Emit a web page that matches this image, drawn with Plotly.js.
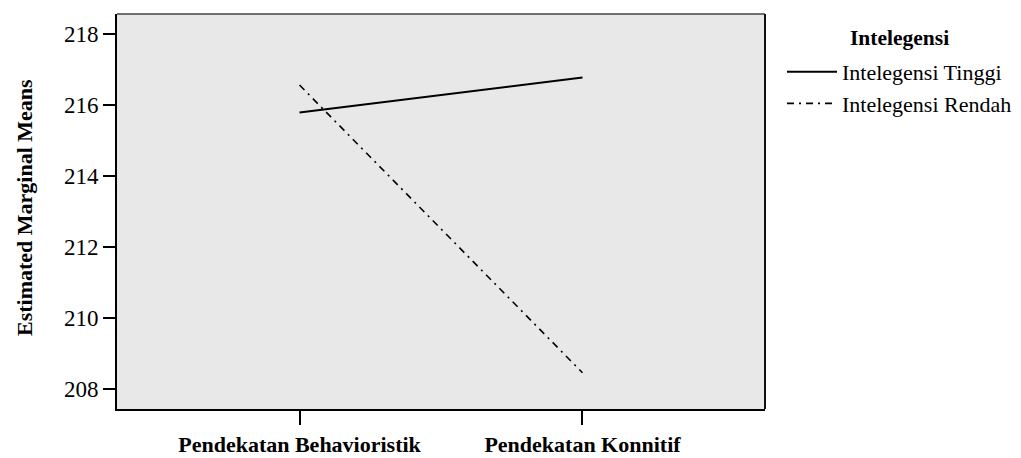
<!DOCTYPE html>
<html><head><meta charset="utf-8">
<script src="https://cdn.plot.ly/plotly-3.0.1.min.js"></script>
<style>html,body{margin:0;padding:0;background:#fff}</style>
</head><body>
<div id="chart" style="width:1021px;height:458px"></div>
<script>
const categories = ["Pendekatan Behavioristik", "Pendekatan Konnitif"];
const tinggi = [215.78, 216.76];
const rendah = [216.55, 208.45];
const seriesNames = ["Intelegensi Tinggi", "Intelegensi Rendah"];
const yTicks = [208, 210, 212, 214, 216, 218];

const font = "Liberation Serif, Times New Roman, serif";
const traces = [
  {x: categories, y: tinggi, name: seriesNames[0], type: "scatter", mode: "lines",
   line: {color: "#000", width: 2}},
  {x: categories, y: rendah, name: seriesNames[1], type: "scatter", mode: "lines",
   line: {color: "#000", width: 1.6, dash: "7px,5px,2px,5px"}}
];
const layout = {
  width: 1021, height: 458,
  margin: {l: 117, r: 256, t: 14, b: 49, autoexpand: false},
  paper_bgcolor: "#fff", plot_bgcolor: "#e8e8e8",
  font: {family: font, color: "#000", size: 20},
  showlegend: true,
  legend: {x: 782/1021, xref: "container", xanchor: "left", y: 1 - 51/458, yref: "container", yanchor: "top",
           font: {family: font, size: 22, color: "#000"}, itemwidth: 50,
           tracegroupgap: 0, bgcolor: "rgba(0,0,0,0)"},
  xaxis: {type: "category", range: [-0.645, 1.645], showgrid: false, zeroline: false,
          showline: true, linecolor: "#000", linewidth: 2, mirror: false, automargin: false,
          ticks: "outside", ticklen: 14, tickwidth: 2, tickcolor: "#000",
          tickfont: {family: font, size: 22, weight: "bold"}, ticklabelstandoff: 1, fixedrange: true},
  yaxis: {range: [207.43, 218.55], tickvals: yTicks, showgrid: false, zeroline: false,
          showline: true, linecolor: "#000", linewidth: 2, automargin: false,
          ticks: "outside", ticklen: 12, tickwidth: 2, tickcolor: "#000",
          tickfont: {family: font, size: 23}},
  shapes: [
    {type: "line", xref: "paper", yref: "paper", x0: 0, x1: 1, y0: 1, y1: 1, line: {color: "#444", width: 1.5}},
    {type: "line", xref: "paper", yref: "paper", x0: 1, x1: 1, y0: 0, y1: 1, line: {color: "#111", width: 2}}
  ],
  annotations: [
    {text: "<b>Intelegensi</b>", xref: "paper", yref: "paper", x: (848-117)/648, y: 1 - (38-14)/395,
     xanchor: "left", yanchor: "middle", showarrow: false, font: {family: font, size: 21.5, color: "#000"}},
    {text: "<b>Estimated Marginal Means</b>", xref: "paper", yref: "paper", x: (25-117)/648, y: 1 - (208-14)/395,
     xanchor: "center", yanchor: "middle", textangle: -90, showarrow: false, font: {family: font, size: 22, color: "#000"}}
  ]
};
Plotly.newPlot("chart", traces, layout, {displayModeBar: false, staticPlot: true});
</script>
</body></html>
